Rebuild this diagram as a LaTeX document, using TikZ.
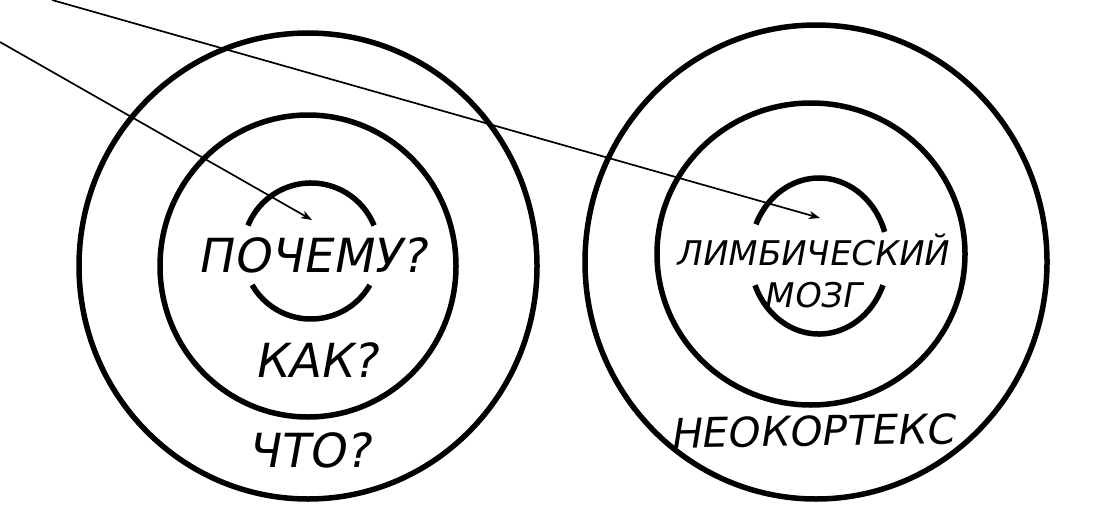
\documentclass[tikz,border=0pt]{standalone}
\usepackage{fontspec}
\newfontfamily\hand{DejaVu Sans}[FakeSlant=0.18]
\usetikzlibrary{arrows.meta}
\tikzset{
  ring/.style={draw=black, line width=5.5pt},
  pointer/.style={draw=black, line width=1.7pt, -{Stealth[length=11pt,width=8pt,inset=3pt]}},
  bigtxt/.style={anchor=base, inner sep=0pt, font=\hand\fontsize{47}{47}\selectfont},
  smalltxt/.style={anchor=base, inner sep=0pt, font=\hand\fontsize{34}{34}\selectfont},
  midtxt/.style={anchor=base, inner sep=0pt, font=\hand\fontsize{41}{41}\selectfont}
}
\begin{document}
\begin{tikzpicture}[x=1pt,y=-1pt]
\useasboundingbox[fill=white] (0,0) rectangle (1099,511);
% centres
\coordinate (Lc1) at (308,266);
\coordinate (Lc2) at (308,266);
\coordinate (Lc3) at (311,251);
\coordinate (Rc1) at (816,262);
\coordinate (Rc2) at (811,254);
\coordinate (Rc3) at (819,256);
% left rings
\draw[ring] (Lc1) ellipse [x radius=229, y radius=233];
\draw[ring] (Lc2) ellipse [x radius=148, y radius=151];
\draw[ring] (Lc3) ++(-158:68 and 68) arc[start angle=-158, end angle=-22, x radius=68, y radius=68];
\draw[ring] (Lc3) ++(30:68 and 68) arc[start angle=30, end angle=150, x radius=68, y radius=68];
% right rings
\draw[ring] (Rc1) ellipse [x radius=231, y radius=237];
\draw[ring] (Rc2) ellipse [x radius=154, y radius=151];
\draw[ring] (Rc3) ++(-156:69 and 78) arc[start angle=-156, end angle=-18, x radius=69, y radius=78];
\draw[ring] (Rc3) ++(22:69 and 78) arc[start angle=22, end angle=158, x radius=69, y radius=78];
% texts
\node[bigtxt] (why) at (312,272) {ПОЧЕМУ?};
\node[bigtxt] (how) at (316,377) {КАК?};
\node[bigtxt] (what) at (309,467) {ЧТО?};
\node[smalltxt] (limb) at (812,265) {ЛИМБИЧЕСКИЙ};
\node[smalltxt] (brain) at (813,307) {МОЗГ};
\node[midtxt, rotate=1] (neo) at (812,446) {НЕОКОРТЕКС};
% arrows
\coordinate (s1) at (0,42);
\coordinate (t1) at (312,220);
\coordinate (s2) at (52,0);
\coordinate (t2) at (820,218);
\draw[pointer] (s1) -- (t1);
\draw[pointer] (s2) -- (t2);
\end{tikzpicture}
\end{document}
